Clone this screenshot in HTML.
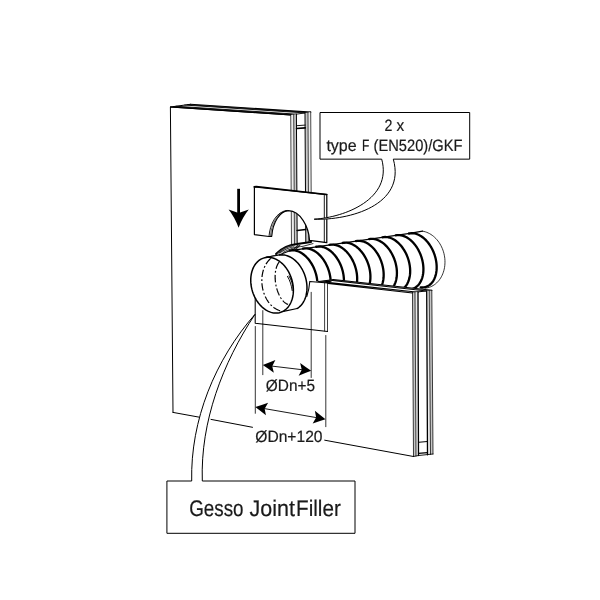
<!DOCTYPE html>
<html><head><meta charset="utf-8"><title>Diagram</title><style>html,body{margin:0;padding:0;background:#fff;}svg{display:block;}</style></head><body>
<svg width="600" height="600" viewBox="0 0 600 600">
<defs><filter id="g" x="0" y="0" width="600" height="600" filterUnits="userSpaceOnUse" color-interpolation-filters="sRGB"><feColorMatrix type="saturate" values="0"/></filter></defs>
<rect width="600" height="600" fill="#fff"/>
<g fill="none" stroke="#000" stroke-linecap="round" stroke-linejoin="round">
<path d="M170.4,107 L290.7,115 L290.7,283 L328,283 L412.5,292.3 L413.5,456.5 L173,412.4 Z" fill="#fff" stroke="none"/>
<path d="M290.7,115 L170.4,107 L173,412.4" stroke-width="1"/>
<path d="M170.40,107.00 L290.70,115.00" stroke-width="1.1"/>
<path d="M173.40,106.59 L293.70,114.56" stroke-width="0.9"/>
<path d="M176.10,106.23 L296.40,114.17" stroke-width="0.9"/>
<path d="M184.70,105.07 L305.00,112.93" stroke-width="0.9"/>
<path d="M187.70,104.66 L308.00,112.49" stroke-width="0.9"/>
<path d="M190.40,104.30 L310.70,112.10" stroke-width="1.1"/>
<path d="M170.4,107 L190.4,104.3" stroke-width="1.0"/>
<path d="M290.7,115 L310.7,112.1" stroke-width="0.9"/>
<path d="M290.70,115.00 L293.70,114.56 L294.50,245.00 L291.50,246.00 Z" fill="#ececec" stroke="none"/>
<path d="M293.70,114.56 L296.40,114.17 L297.20,244.50 L294.50,245.00 Z" fill="#c8c8c8" stroke="none"/>
<path d="M305.00,112.93 L308.00,112.49 L308.80,242.50 L305.80,243.00 Z" fill="#c8c8c8" stroke="none"/>
<path d="M308.00,112.49 L310.70,112.10 L311.50,242.00 L308.80,242.50 Z" fill="#ececec" stroke="none"/>
<path d="M290.70,115.00 L291.50,246.00" stroke-width="0.7"/>
<path d="M293.70,114.56 L294.50,245.00" stroke-width="0.7"/>
<path d="M296.40,114.17 L297.20,244.50" stroke-width="1.0"/>
<path d="M305.00,112.93 L305.80,243.00" stroke-width="1.0"/>
<path d="M308.00,112.49 L308.80,242.50" stroke-width="0.7"/>
<path d="M310.70,112.10 L311.50,242.00" stroke-width="0.7"/>
<path d="M296.6,125.7 L305.2,125.1" stroke-width="0.9"/>
<path d="M296.6,128.5 L305.2,127.9" stroke-width="1.7"/>
<path d="M297.2,230.5 L305.6,229.5" stroke-width="1.7"/>
<path d="M254.4,187 L326.8,194.6 L326.8,242.7 L309.5,240.4 C308.8,226.5 300.5,211.3 288.5,210.7 C280,211 272.8,222 271.7,236.3 L269,236.5 L254.4,234.6 Z" fill="#fff" stroke-width="1.2"/>
<path d="M254.2,186.9 L256.3,186.5 L326.8,194.5" stroke-width="1.6"/>
<path d="M324.3,194.5 L324.3,242.4" stroke-width="0.9"/>
<path d="M269,236.4 C269.8,224 276.5,211.3 287,210.5" stroke-width="0.9"/>
<path d="M270.4,236.3 C271.2,224 277.5,212 287.5,210.6" stroke-width="0.6"/>
<path d="M276,254 C281,248.5 288,245 297,244 L311,242" stroke-width="1.9"/>
<path d="M277.5,253.5 C282,249 287,246.6 292,245.8 M279.5,253 C284,249.6 289,247.6 294,246.8 M293.5,249.5 L298,245 M295.5,249.5 L300,245" stroke-width="1.1" stroke="#333"/>
<path d="M283,252.5 C290,248.5 296,247 303,246.3 L313,243.6" stroke-width="0.8"/>
<path d="M263,257.3 L279.5,254.8 L290.5,250.6 L409.74,233.36 L422.50,231.16 L422.50,231.16 L423.95,231.45 L425.38,231.84 L426.80,232.34 L428.20,232.94 L429.57,233.64 L430.91,234.44 L432.21,235.33 L433.48,236.31 L434.69,237.38 L435.86,238.53 L436.98,239.76 L438.03,241.06 L439.02,242.43 L439.95,243.87 L440.81,245.36 L441.59,246.91 L442.30,248.50 L442.93,250.14 L443.48,251.81 L443.94,253.51 L444.32,255.23 L444.62,256.97 L444.83,258.72 L444.95,260.47 L444.98,262.22 L444.92,263.96 L444.78,265.68 L444.55,267.38 L444.23,269.05 L443.82,270.69 L443.33,272.28 L442.76,273.83 L442.11,275.32 L441.38,276.76 L440.58,278.13 L439.70,279.43 L438.76,280.66 L437.75,281.81 L436.68,282.88 L435.55,283.86 L434.36,284.75 L433.13,285.54 L431.86,286.24 L430.54,286.84 L429.19,287.34 L427.81,287.73 L426.41,288.02 L424.99,288.21 L278,313 Z" fill="#fff" stroke="none"/>
<path d="M422.50,231.16 L423.95,231.45 L425.38,231.84 L426.80,232.34 L428.20,232.94 L429.57,233.64 L430.91,234.44 L432.21,235.33 L433.48,236.31 L434.69,237.38 L435.86,238.53 L436.98,239.76 L438.03,241.06 L439.02,242.43 L439.95,243.87 L440.81,245.36 L441.59,246.91 L442.30,248.50 L442.93,250.14 L443.48,251.81 L443.94,253.51 L444.32,255.23 L444.62,256.97 L444.83,258.72 L444.95,260.47 L444.98,262.22 L444.92,263.96 L444.78,265.68 L444.55,267.38 L444.23,269.05 L443.82,270.69 L443.33,272.28 L442.76,273.83 L442.11,275.32 L441.38,276.76 L440.58,278.13 L439.70,279.43 L438.76,280.66 L437.75,281.81 L436.68,282.88 L435.55,283.86 L434.36,284.75 L433.13,285.54 L431.86,286.24 L430.54,286.84 L429.19,287.34 L427.81,287.73 L426.41,288.02 L424.99,288.21" stroke-width="0.8"/>
<path d="M266,257.2 L279.5,254.8 L290.5,250.6 L409.74,233.36 L422.50,231.16" stroke-width="1.1"/>
<path d="M409.00,233.50 L410.29,233.28 L411.61,233.20 L412.96,233.25 L414.32,233.43 L415.70,233.74 L417.09,234.19 L418.47,234.76 L419.84,235.45 L421.21,236.27 L422.54,237.21 L423.86,238.26 L425.13,239.41 L426.37,240.67 L427.56,242.03 L428.70,243.47 L429.78,245.00 L430.80,246.60 L431.75,248.27 L432.63,250.00 L433.43,251.78 L434.15,253.60 L434.78,255.46 L435.33,257.33 L435.78,259.23 L436.15,261.13 L436.42,263.02 L436.59,264.90 L436.67,266.76 L436.65,268.59 L436.54,270.38 L436.32,272.11 L436.02,273.80 L435.62,275.41 L435.12,276.95 L434.54,278.41 L433.88,279.79 L433.13,281.06 L432.30,282.24 L431.39,283.31 L430.41,284.26 L429.37,285.10 L428.27,285.82 L427.11,286.42 L425.90,286.88 L424.64,287.22 L423.35,287.43 L422.03,287.50 L420.68,287.44" stroke-width="2.3"/>
<path d="M395.75,235.39 L397.04,235.18 L398.36,235.09 L399.71,235.14 L401.07,235.33 L402.45,235.64 L403.84,236.08 L405.22,236.65 L406.59,237.35 L407.96,238.17 L409.29,239.10 L410.61,240.15 L411.88,241.31 L413.12,242.57 L414.31,243.92 L415.45,245.37 L416.53,246.90 L417.55,248.50 L418.50,250.17 L419.38,251.90 L420.18,253.68 L420.90,255.50 L421.53,257.35 L422.08,259.23 L422.53,261.12 L422.90,263.02 L423.17,264.91 L423.34,266.80 L423.42,268.66 L423.40,270.48 L423.29,272.27 L423.07,274.01 L422.77,275.69 L422.37,277.31 L421.87,278.85 L421.29,280.31 L420.63,281.68 L419.88,282.96 L419.05,284.13 L418.14,285.20 L417.16,286.16 L416.12,287.00 L415.02,287.72 L413.86,288.31 L412.65,288.78 L411.39,289.12 L410.10,289.32 L408.78,289.40 L407.43,289.34" stroke-width="2.3"/>
<path d="M382.50,237.29 L383.79,237.07 L385.11,236.99 L386.46,237.04 L387.82,237.22 L389.20,237.53 L390.59,237.98 L391.97,238.55 L393.34,239.24 L394.71,240.06 L396.04,241.00 L397.36,242.05 L398.63,243.20 L399.87,244.46 L401.06,245.82 L402.20,247.26 L403.28,248.79 L404.30,250.39 L405.25,252.06 L406.13,253.79 L406.93,255.57 L407.65,257.39 L408.28,259.25 L408.83,261.12 L409.28,263.02 L409.65,264.91 L409.92,266.81 L410.09,268.69 L410.17,270.55 L410.15,272.38 L410.04,274.17 L409.82,275.90 L409.52,277.59 L409.12,279.20 L408.62,280.74 L408.04,282.20 L407.38,283.58 L406.63,284.85 L405.80,286.03 L404.89,287.10 L403.91,288.05 L402.87,288.89 L401.77,289.61 L400.61,290.21 L399.40,290.67 L398.14,291.01 L396.85,291.22 L395.53,291.29 L394.18,291.23" stroke-width="2.3"/>
<path d="M369.25,239.18 L370.54,238.97 L371.86,238.88 L373.21,238.93 L374.57,239.11 L375.95,239.43 L377.34,239.87 L378.72,240.44 L380.09,241.14 L381.46,241.96 L382.79,242.89 L384.11,243.94 L385.38,245.10 L386.62,246.36 L387.81,247.71 L388.95,249.16 L390.03,250.68 L391.05,252.29 L392.00,253.96 L392.88,255.69 L393.68,257.46 L394.40,259.29 L395.03,261.14 L395.58,263.02 L396.03,264.91 L396.40,266.81 L396.67,268.70 L396.84,270.59 L396.92,272.44 L396.90,274.27 L396.79,276.06 L396.57,277.80 L396.27,279.48 L395.87,281.10 L395.37,282.64 L394.79,284.10 L394.13,285.47 L393.38,286.75 L392.55,287.92 L391.64,288.99 L390.66,289.95 L389.62,290.79 L388.52,291.51 L387.36,292.10 L386.15,292.57 L384.89,292.91 L383.60,293.11 L382.28,293.19 L380.93,293.13" stroke-width="2.3"/>
<path d="M356.00,241.08 L357.29,240.86 L358.61,240.78 L359.96,240.83 L361.32,241.01 L362.70,241.32 L364.09,241.77 L365.47,242.34 L366.84,243.03 L368.21,243.85 L369.54,244.79 L370.86,245.84 L372.13,246.99 L373.37,248.25 L374.56,249.61 L375.70,251.05 L376.78,252.58 L377.80,254.18 L378.75,255.85 L379.63,257.58 L380.43,259.36 L381.15,261.18 L381.78,263.03 L382.33,264.91 L382.78,266.81 L383.15,268.70 L383.42,270.60 L383.59,272.48 L383.67,274.34 L383.65,276.17 L383.54,277.95 L383.32,279.69 L383.02,281.37 L382.62,282.99 L382.12,284.53 L381.54,285.99 L380.88,287.36 L380.13,288.64 L379.30,289.82 L378.39,290.89 L377.41,291.84 L376.37,292.68 L375.27,293.40 L374.11,294.00 L372.90,294.46 L371.64,294.80 L370.35,295.01 L369.03,295.08 L367.68,295.02" stroke-width="2.3"/>
<path d="M342.75,242.97 L344.04,242.76 L345.36,242.67 L346.71,242.72 L348.07,242.90 L349.45,243.22 L350.84,243.66 L352.22,244.23 L353.59,244.93 L354.96,245.75 L356.29,246.68 L357.61,247.73 L358.88,248.89 L360.12,250.15 L361.31,251.50 L362.45,252.95 L363.53,254.47 L364.55,256.08 L365.50,257.75 L366.38,259.47 L367.18,261.25 L367.90,263.08 L368.53,264.93 L369.08,266.81 L369.53,268.70 L369.90,270.60 L370.17,272.49 L370.34,274.37 L370.42,276.23 L370.40,278.06 L370.29,279.85 L370.07,281.59 L369.77,283.27 L369.37,284.88 L368.87,286.43 L368.29,287.89 L367.63,289.26 L366.88,290.54 L366.05,291.71 L365.14,292.78 L364.16,293.74 L363.12,294.58 L362.02,295.30 L360.86,295.89 L359.65,296.36 L358.39,296.70 L357.10,296.90 L355.78,296.98 L354.43,296.92" stroke-width="2.3"/>
<path d="M329.50,244.87 L330.79,244.65 L332.11,244.57 L333.46,244.62 L334.82,244.80 L336.20,245.11 L337.59,245.56 L338.97,246.13 L340.34,246.82 L341.71,247.64 L343.04,248.58 L344.36,249.63 L345.63,250.78 L346.87,252.04 L348.06,253.40 L349.20,254.84 L350.28,256.37 L351.30,257.97 L352.25,259.64 L353.13,261.37 L353.93,263.15 L354.65,264.97 L355.28,266.82 L355.83,268.70 L356.28,270.60 L356.65,272.49 L356.92,274.39 L357.09,276.27 L357.17,278.13 L357.15,279.96 L357.04,281.74 L356.82,283.48 L356.52,285.16 L356.12,286.78 L355.62,288.32 L355.04,289.78 L354.38,291.15 L353.63,292.43 L352.80,293.61 L351.89,294.68 L350.91,295.63 L349.87,296.47 L348.77,297.19 L347.61,297.79 L346.40,298.25 L345.14,298.59 L343.85,298.80 L342.53,298.87 L341.18,298.81" stroke-width="2.3"/>
<path d="M316.25,246.76 L317.54,246.55 L318.86,246.46 L320.21,246.51 L321.57,246.69 L322.95,247.01 L324.34,247.45 L325.72,248.02 L327.09,248.72 L328.46,249.54 L329.79,250.47 L331.11,251.52 L332.38,252.68 L333.62,253.94 L334.81,255.29 L335.95,256.74 L337.03,258.26 L338.05,259.87 L339.00,261.54 L339.88,263.26 L340.68,265.04 L341.40,266.86 L342.03,268.72 L342.58,270.60 L343.03,272.49 L343.40,274.39 L343.67,276.28 L343.84,278.16 L343.92,280.02 L343.90,281.85 L343.79,283.64 L343.57,285.38 L343.27,287.06 L342.87,288.67 L342.37,290.22 L341.79,291.68 L341.13,293.05 L340.38,294.33 L339.55,295.50 L338.64,296.57 L337.66,297.53 L336.62,298.37 L335.52,299.09 L334.36,299.68 L333.15,300.15 L331.89,300.49 L330.60,300.69 L329.28,300.76 L327.93,300.71" stroke-width="2.3"/>
<path d="M303.00,248.66 L304.29,248.44 L305.61,248.36 L306.96,248.41 L308.32,248.59 L309.70,248.90 L311.09,249.34 L312.47,249.92 L313.84,250.61 L315.21,251.43 L316.54,252.37 L317.86,253.41 L319.13,254.57 L320.37,255.83 L321.56,257.19 L322.70,258.63 L323.78,260.16 L324.80,261.76 L325.75,263.43 L326.63,265.16 L327.43,266.94 L328.15,268.76 L328.78,270.61 L329.33,272.49 L329.78,274.38 L330.15,276.28 L330.42,278.18 L330.59,280.06 L330.67,281.92 L330.65,283.75 L330.54,285.53 L330.32,287.27 L330.02,288.95 L329.62,290.57 L329.12,292.11 L328.54,293.57 L327.88,294.94 L327.13,296.22 L326.30,297.40 L325.39,298.47 L324.41,299.42 L323.37,300.26 L322.27,300.98 L321.11,301.58 L319.90,302.04 L318.64,302.38 L317.35,302.59 L316.03,302.66 L314.68,302.60" stroke-width="2.3"/>
<path d="M289.75,250.55 L291.04,250.34 L292.36,250.25 L293.71,250.30 L295.07,250.48 L296.45,250.80 L297.84,251.24 L299.22,251.81 L300.59,252.51 L301.96,253.32 L303.29,254.26 L304.61,255.31 L305.88,256.47 L307.12,257.73 L308.31,259.08 L309.45,260.53 L310.53,262.05 L311.55,263.66 L312.50,265.33 L313.38,267.05 L314.18,268.83 L314.90,270.65 L315.53,272.51 L316.08,274.39 L316.53,276.28 L316.90,278.18 L317.17,280.07 L317.34,281.95 L317.42,283.81 L317.40,285.64 L317.29,287.43 L317.07,289.17 L316.77,290.85 L316.37,292.46 L315.87,294.01 L315.29,295.47 L314.63,296.84 L313.88,298.12 L313.05,299.29 L312.14,300.36 L311.16,301.32 L310.12,302.16 L309.02,302.88 L307.86,303.47 L306.65,303.94 L305.39,304.27 L304.10,304.48 L302.78,304.55 L301.43,304.49" stroke-width="2.3"/>
<path d="M318,281.3 L333.3,279.4 L431.8,290.3 L433,454 L413.5,456.5 L300,436 L300,283 Z" fill="#fff" stroke="none"/>
<path d="M333.3,279.5 L431.8,290.3 M332.3,280.5 L426.7,290.9" stroke-width="1.05"/>
<path d="M329.5,282.6 L418,292.3 M328,283.5 L412.5,293" stroke-width="1.1"/>
<path d="M318,281.6 L333.3,279.6 M412.5,292.5 L431.8,290.4" stroke-width="1"/>
<path d="M319,282.1 L328,283.2 L333.3,279.9 Z" fill="#000" stroke-width="0.6"/>
<path d="M412.50,292.50 L415.00,292.20 L416.00,456.00 L413.50,456.50 Z" fill="#c6c6c6" stroke="none"/>
<path d="M415.00,292.20 L418.00,291.90 L418.50,455.50 L416.00,456.00 Z" fill="#ececec" stroke="none"/>
<path d="M426.70,291.10 L429.20,290.80 L430.50,454.40 L427.50,454.80 Z" fill="#ececec" stroke="none"/>
<path d="M429.20,290.80 L431.80,290.40 L433.00,454.00 L430.50,454.40 Z" fill="#c6c6c6" stroke="none"/>
<path d="M412.50,292.50 L413.50,456.50" stroke-width="0.75"/>
<path d="M415.00,292.20 L416.00,456.00" stroke-width="0.75"/>
<path d="M418.00,291.90 L418.50,455.50" stroke-width="1.30"/>
<path d="M426.70,291.10 L427.50,454.80" stroke-width="1.30"/>
<path d="M429.20,290.80 L430.50,454.40" stroke-width="0.75"/>
<path d="M431.80,290.40 L433.00,454.00" stroke-width="0.75"/>
<path d="M413.5,456.5 L418.5,455.5 L433,454" stroke-width="0.9"/>
<path d="M418.5,442.3 L427.5,441.5" stroke-width="1"/>
<path d="M418.5,453.3 L427.5,452.6" stroke-width="1.2"/>
<path d="M173,412.4 L200.5,417.4 M211,419.4 L252.5,427.3 M324.7,440.2 L413.5,456.5" stroke-width="1"/>
<path d="M309.5,281.2 L327.6,283 L327.6,331.4 L255.2,323.2 L255.2,290 Z" fill="#fff" stroke="none"/>
<path d="M306.8,296.5 C308.6,291 309.4,287 309.8,281.4 L327.6,283 M327.6,331.4 L255.2,323.2 L255.2,295" stroke-width="1.05"/>
<path d="M324.6,283 L324.6,331 M327.5,283 L327.5,331.4" stroke-width="0.75"/>
<path d="M266.04,257.50 L267.39,257.37 L268.76,257.36 L270.15,257.47 L271.54,257.70 L272.94,258.05 L274.33,258.51 L275.71,259.09 L277.07,259.78 L278.42,260.57 L279.73,261.48 L281.02,262.48 L282.26,263.58 L283.47,264.78 L284.62,266.06 L285.72,267.42 L286.76,268.86 L287.74,270.37 L288.65,271.95 L289.49,273.58 L290.25,275.26 L290.94,276.98 L291.55,278.74 L292.07,280.53 L292.51,282.33 L292.86,284.15 L293.12,285.97 L293.29,287.79 L293.37,289.60 L293.36,291.39 L293.25,293.15 L293.06,294.88 L292.78,296.57 L292.40,298.21 L291.94,299.79 L291.40,301.32 L290.77,302.77 L290.07,304.14 L289.28,305.44 L288.42,306.65 L287.49,307.77 L286.50,308.79 L285.44,309.71 L284.33,310.52 L283.16,311.23 L281.95,311.82 L280.69,312.31 L279.40,312.67 L278.08,312.92 L276.73,313.05 L275.36,313.06 L273.97,312.95 L272.58,312.72 L271.18,312.37 L269.79,311.91 L268.41,311.33 L267.05,310.64 L265.70,309.85 L264.39,308.94 L263.10,307.94 L261.86,306.84 L260.65,305.64 L259.50,304.36 L258.40,303.00 L257.36,301.56 L256.38,300.05 L255.47,298.47 L254.63,296.84 L253.87,295.16 L253.18,293.44 L252.57,291.68 L252.05,289.89 L251.61,288.09 L251.26,286.27 L251.00,284.45 L250.83,282.63 L250.75,280.82 L250.76,279.03 L250.87,277.27 L251.06,275.54 L251.34,273.85 L251.72,272.21 L252.18,270.63 L252.72,269.10 L253.35,267.65 L254.05,266.28 L254.84,264.98 L255.70,263.77 L256.63,262.65 L257.62,261.63 L258.68,260.71 L259.79,259.90 L260.96,259.19 L262.17,258.60 L263.43,258.11 L264.72,257.75 L266.04,257.50 Z" fill="#fff" stroke="none"/>
<path d="M266,257.3 L279.64,255.00 L279.64,255.00 L280.87,254.88 L282.11,254.86 L283.37,254.93 L284.63,255.10 L285.90,255.37 L287.17,255.74 L288.43,256.20 L289.68,256.76 L290.92,257.41 L292.13,258.15 L293.33,258.97 L294.50,259.88 L295.64,260.87 L296.74,261.94 L297.80,263.08 L298.82,264.29 L299.79,265.56 L300.72,266.90 L301.59,268.29 L302.40,269.73 L303.16,271.22 L303.85,272.75 L304.48,274.31 L305.04,275.90 L305.53,277.52 L305.95,279.16 L306.31,280.81 L306.58,282.46 L306.79,284.12 L306.92,285.77 L306.97,287.41 L306.95,289.03 L306.85,290.64 L306.68,292.21 L306.44,293.75 L306.12,295.25 L305.73,296.71 L305.26,298.11 L304.73,299.47 L304.13,300.76 L303.47,301.99 L302.74,303.15 L301.95,304.24 L301.11,305.25 L300.21,306.18 L299.26,307.03 L298.26,307.80 L297.21,308.47 L278,312.6 Z" fill="#fff" stroke="none"/>
<path d="M266.04,257.50 L267.39,257.37 L268.76,257.36 L270.15,257.47 L271.54,257.70 L272.94,258.05 L274.33,258.51 L275.71,259.09 L277.07,259.78 L278.42,260.57 L279.73,261.48 L281.02,262.48 L282.26,263.58 L283.47,264.78 L284.62,266.06 L285.72,267.42 L286.76,268.86 L287.74,270.37 L288.65,271.95 L289.49,273.58 L290.25,275.26 L290.94,276.98 L291.55,278.74 L292.07,280.53 L292.51,282.33 L292.86,284.15 L293.12,285.97 L293.29,287.79 L293.37,289.60 L293.36,291.39 L293.25,293.15 L293.06,294.88 L292.78,296.57 L292.40,298.21 L291.94,299.79 L291.40,301.32 L290.77,302.77 L290.07,304.14 L289.28,305.44 L288.42,306.65 L287.49,307.77 L286.50,308.79 L285.44,309.71 L284.33,310.52 L283.16,311.23 L281.95,311.82 L280.69,312.31 L279.40,312.67 L278.08,312.92 L276.73,313.05 L275.36,313.06 L273.97,312.95 L272.58,312.72 L271.18,312.37 L269.79,311.91 L268.41,311.33 L267.05,310.64 L265.70,309.85 L264.39,308.94 L263.10,307.94 L261.86,306.84 L260.65,305.64 L259.50,304.36 L258.40,303.00 L257.36,301.56 L256.38,300.05 L255.47,298.47 L254.63,296.84 L253.87,295.16 L253.18,293.44 L252.57,291.68 L252.05,289.89 L251.61,288.09 L251.26,286.27 L251.00,284.45 L250.83,282.63 L250.75,280.82 L250.76,279.03 L250.87,277.27 L251.06,275.54 L251.34,273.85 L251.72,272.21 L252.18,270.63 L252.72,269.10 L253.35,267.65 L254.05,266.28 L254.84,264.98 L255.70,263.77 L256.63,262.65 L257.62,261.63 L258.68,260.71 L259.79,259.90 L260.96,259.19 L262.17,258.60 L263.43,258.11 L264.72,257.75 L266.04,257.50 Z" stroke-width="1.5"/>
<path d="M279.64,255.00 L280.87,254.88 L282.11,254.86 L283.37,254.93 L284.63,255.10 L285.90,255.37 L287.17,255.74 L288.43,256.20 L289.68,256.76 L290.92,257.41 L292.13,258.15 L293.33,258.97 L294.50,259.88 L295.64,260.87 L296.74,261.94 L297.80,263.08 L298.82,264.29 L299.79,265.56 L300.72,266.90 L301.59,268.29 L302.40,269.73 L303.16,271.22 L303.85,272.75 L304.48,274.31 L305.04,275.90 L305.53,277.52 L305.95,279.16 L306.31,280.81 L306.58,282.46 L306.79,284.12 L306.92,285.77 L306.97,287.41 L306.95,289.03 L306.85,290.64 L306.68,292.21 L306.44,293.75 L306.12,295.25 L305.73,296.71 L305.26,298.11 L304.73,299.47 L304.13,300.76 L303.47,301.99 L302.74,303.15 L301.95,304.24 L301.11,305.25 L300.21,306.18 L299.26,307.03 L298.26,307.80 L297.21,308.47" stroke-width="1.5"/>
<path d="M266,257.3 L279.64,255.00" stroke-width="1"/>
<path d="M283.5,311.4 L297.21,308.47" stroke-width="1.1"/>
<path d="M270.85,258.41 L269.97,259.16 L269.13,259.98 L268.32,260.87 L267.55,261.81 L266.82,262.82 L266.13,263.88 L265.49,265.00 L264.90,266.17 L264.36,267.38 L263.86,268.64 L263.42,269.94 L263.03,271.27 L262.69,272.64 L262.41,274.03 L262.18,275.46 L262.01,276.90 L261.90,278.36 L261.84,279.83 L261.84,281.31 L261.89,282.80 L262.01,284.29 L262.18,285.77 L262.40,287.25 L262.68,288.71 L263.02,290.16 L263.41,291.59 L263.85,292.99 L264.35,294.37 L264.89,295.72 L265.48,297.03 L266.12,298.30 L266.80,299.53 L267.53,300.71 L268.30,301.84 L269.11,302.92 L269.95,303.94 L270.83,304.91 L271.74,305.81 L272.68,306.65 L273.65,307.43 L274.64,308.13 L275.65,308.77 L276.68,309.34 L277.72,309.83 L278.78,310.24 L279.85,310.58 L280.92,310.84 L282.00,311.03" stroke-width="1.2" stroke-dasharray="7.5 2.2 1.8 2.2" stroke-linecap="butt"/>
<path d="M279.20,262.00 L278.74,262.59 L278.31,263.23 L277.90,263.91 L277.51,264.65 L277.16,265.43 L276.82,266.25 L276.52,267.12 L276.24,268.02 L275.99,268.96 L275.78,269.94 L275.59,270.95 L275.43,271.98 L275.31,273.05 L275.22,274.13 L275.16,275.24 L275.13,276.37 L275.13,277.51 L275.17,278.66 L275.24,279.82 L275.34,280.99 L275.47,282.15 L275.63,283.32 L275.83,284.49 L276.05,285.65 L276.31,286.80 L276.59,287.93 L276.90,289.06 L277.24,290.16 L277.61,291.24 L278.00,292.30 L278.41,293.32 L278.85,294.32 L279.32,295.29 L279.80,296.22 L280.30,297.12 L280.82,297.97 L281.36,298.78 L281.92,299.55 L282.49,300.27 L283.07,300.95 L283.66,301.57 L284.27,302.14 L284.88,302.66 L285.49,303.12 L286.12,303.53 L286.74,303.88 L287.37,304.18 L288.00,304.41" stroke-width="1.2" stroke-dasharray="7.5 2.2 1.8 2.2" stroke-linecap="butt"/>
<path d="M287.5,276.4 C290,280.5 291.4,285 292.2,290.6 M289,276 C291.6,280 292.9,285 293.4,290" stroke-width="0.95"/>
<path d="M255.3,326.5 L255.3,413.3 M262.8,310.6 L262.8,374.7 M311.2,292.3 L311.2,377.5 M325.8,335.5 L325.8,426.7" stroke-width="0.8"/>
<path d="M272.23,366.13 L301.77,369.67" stroke-width="0.9"/><path d="M262.80,365.00 Q268.90,369.08 273.85,372.77 L272.23,366.13 L275.38,360.06 Q269.69,362.47 262.80,365.00 Z" fill="#000" stroke="none"/><path d="M311.20,370.80 Q304.31,373.33 298.62,375.74 L301.77,369.67 L300.15,363.03 Q305.10,366.72 311.20,370.80 Z" fill="#000" stroke="none"/>
<path d="M264.66,408.63 L316.14,417.57" stroke-width="0.9"/><path d="M255.30,407.00 Q261.18,411.40 265.93,415.34 L264.66,408.63 L268.12,402.73 Q262.32,404.84 255.30,407.00 Z" fill="#000" stroke="none"/><path d="M325.50,419.20 Q318.48,421.36 312.68,423.47 L316.14,417.57 L314.87,410.86 Q319.62,414.80 325.50,419.20 Z" fill="#000" stroke="none"/>
<path d="M238.6,188.8 L238.6,214" stroke-width="2.8" stroke-linecap="butt"/>
<path d="M238.6,227.8 Q234.5,217 228.6,209.6 L238.6,213 L248.8,209.6 Q242.7,217 238.6,227.8 Z" fill="#000" stroke="none"/>
<path d="M320.4,112.5 L469.7,112.5 L469.7,159.15 L393.3,159.15 C406.3,205.5 348.8,220.4 314.2,219.2 C345,217.3 392.6,199 381.7,159.15 L320.4,159.15 Z" fill="#fff" stroke-width="1.0"/>
<path d="M167.3,481 L191.7,481 C190.3,420.2 215.2,359.6 255,314.3 C222.7,363 200.3,421.6 202.3,481 L355,481 L355,533.3 L167.3,533.3 Z" fill="#fff" stroke-width="1.0"/>
</g>
<g font-family="Liberation Sans, sans-serif" fill="#1a1a1a" stroke="#1a1a1a" stroke-width="0.2" filter="url(#g)" text-rendering="geometricPrecision">
<text x="384.4" y="130.8" font-size="16.4" textLength="7.9" lengthAdjust="spacingAndGlyphs">2</text>
<text x="396.4" y="130.8" font-size="16.4" textLength="7.7" lengthAdjust="spacingAndGlyphs">x</text>
<text x="326.4" y="150.9" font-size="16.4" textLength="30.3" lengthAdjust="spacingAndGlyphs">type</text>
<text x="361.9" y="150.9" font-size="16.4" textLength="7.3" lengthAdjust="spacingAndGlyphs">F</text>
<text x="373.6" y="150.9" font-size="16.4" textLength="88.8" lengthAdjust="spacingAndGlyphs">(EN520)/GKF</text>
<text x="265.8" y="390.7" font-size="16.3" textLength="49.2" lengthAdjust="spacingAndGlyphs">ØDn+5</text>
<text x="255.3" y="441.6" font-size="16.3" textLength="67.2" lengthAdjust="spacingAndGlyphs">ØDn+120</text>
<text x="189.2" y="515.8" font-size="22.6" textLength="54.4" lengthAdjust="spacingAndGlyphs">Gesso</text>
<text x="249.6" y="515.8" font-size="22.6" textLength="45.4" lengthAdjust="spacingAndGlyphs">Joint</text>
<text x="296" y="515.8" font-size="22.6" textLength="44.8" lengthAdjust="spacingAndGlyphs">Filler</text>
</g>
</svg>
</body></html>
